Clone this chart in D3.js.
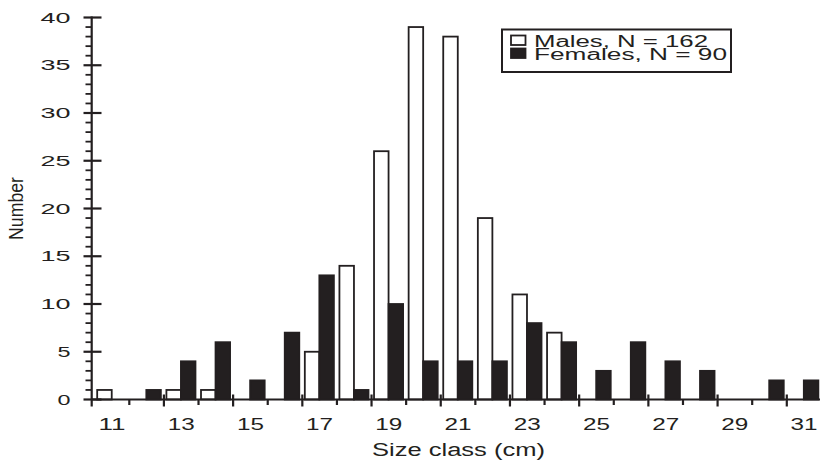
<!DOCTYPE html>
<html lang="en">
<head>
  <meta charset="UTF-8" />
  <title>Size class distribution</title>
  <script src="https://d3js.org/d3.v7.min.js"></script>
  <style>
    body {
      margin: 0;
      background: #fff;
      font-family: "Liberation Sans", Arial, sans-serif;
    }
    svg text {
      fill: #231f20;
    }
  </style>
</head>
<body>
  <div id="chart"></div>

  <script>
    // data
    const sizeClasses = [11, 12, 13, 14, 15, 16, 17, 18, 19, 20, 21, 22, 23, 24, 25, 26, 27, 28, 29, 30, 31];
    const males   = [1, 0, 1, 1, 0, 0, 5, 14, 26, 39, 38, 19, 11, 7, 0, 0, 0, 0, 0, 0, 0];
    const females = [0, 1, 4, 6, 2, 7, 13, 1, 10, 4, 4, 4, 8, 6, 3, 6, 4, 3, 0, 2, 2];
    const xLabels = [11, 13, 15, 17, 19, 21, 23, 25, 27, 29, 31];
    const yTicks = [0, 5, 10, 15, 20, 25, 30, 35, 40];
    const seriesNames = ["Males", "Females"];
    const legendLabels = ["Males, N = 162", "Females, N = 90"];

    const W = 820, H = 462;
    const ink = "#231f20";

    const svg = d3.select("#chart").append("svg")
      .attr("width", W)
      .attr("height", H);

    // scales
    const x0 = 94.7, x1 = 821.4;
    const xEdge = d3.scaleLinear().domain([10.5, 31.5]).range([x0, x1]);
    const xBand = d3.scaleBand().domain(sizeClasses).range([x0, x1])
      .paddingInner(0.16).paddingOuter(0.08).align(0.45);
    const xSub = d3.scaleBand().domain(seriesNames).range([0, xBand.bandwidth()]);
    const y = d3.scaleLinear().domain([0, 40]).range([399.5, 17.5]);

    const rows = sizeClasses.map((c, i) => ({ c, Males: males[i], Females: females[i] }));

    // bars
    const groups = svg.append("g").selectAll("g")
      .data(rows)
      .join("g")
      .attr("transform", d => `translate(${xBand(d.c)},0)`);

    groups.selectAll("rect")
      .data(d => seriesNames.map(k => ({ key: k, value: d[k] })).filter(e => e.value > 0))
      .join("rect")
      .attr("x", d => xSub(d.key))
      .attr("y", d => y(d.value))
      .attr("width", xSub.bandwidth())
      .attr("height", d => y(0) - y(d.value))
      .attr("fill", d => d.key === "Males" ? "#fff" : ink)
      .attr("stroke", ink)
      .attr("stroke-width", 1.8);

    // x axis line + ticks
    const xAxis = svg.append("g");
    xAxis.append("line")
      .attr("x1", 91.5).attr("x2", W)
      .attr("y1", y(0)).attr("y2", y(0))
      .attr("stroke", ink).attr("stroke-width", 2.2);

    const majorEdges = xLabels.map(v => v - 0.5);
    const minorEdges = sizeClasses.filter(v => v % 2 === 0).map(v => v - 0.5);

    xAxis.selectAll(".xmaj")
      .data(majorEdges.slice(1))
      .join("line")
      .attr("x1", d => xEdge(d)).attr("x2", d => xEdge(d))
      .attr("y1", y(0) - 5).attr("y2", y(0) + 7)
      .attr("stroke", ink).attr("stroke-width", 2.2);

    xAxis.selectAll(".xmin")
      .data(minorEdges)
      .join("line")
      .attr("x1", d => xEdge(d)).attr("x2", d => xEdge(d))
      .attr("y1", y(0)).attr("y2", y(0) + 5.5)
      .attr("stroke", ink).attr("stroke-width", 2.2);

    xAxis.selectAll(".xlab")
      .data(xLabels)
      .join("text")
      .attr("x", d => xEdge(d) - 13.5)
      .attr("y", 429.5)
      .attr("font-size", 17)
      .attr("textLength", 27)
      .attr("lengthAdjust", "spacingAndGlyphs")
      .text(d => d);

    // y axis line + ticks
    const yAxis = svg.append("g");
    yAxis.append("line")
      .attr("x1", 91.7).attr("x2", 91.7)
      .attr("y1", y(40) - 1).attr("y2", y(0) + 7)
      .attr("stroke", ink).attr("stroke-width", 2.2);

    yAxis.selectAll(".ymin")
      .data(d3.range(0, 41).filter(v => v % 5 !== 0))
      .join("line")
      .attr("x1", 85.5).attr("x2", 91.7)
      .attr("y1", d => y(d)).attr("y2", d => y(d))
      .attr("stroke", ink).attr("stroke-width", 1.8);

    yAxis.selectAll(".ymaj")
      .data(yTicks)
      .join("line")
      .attr("x1", 83.5).attr("x2", 101.5)
      .attr("y1", d => y(d)).attr("y2", d => y(d))
      .attr("stroke", ink).attr("stroke-width", 2.2);

    yAxis.selectAll(".ylab")
      .data(yTicks)
      .join("text")
      .attr("x", d => 70.5 - (String(d).length === 1 ? 13 : 30))
      .attr("y", d => y(d) + 5)
      .attr("font-size", 14)
      .attr("textLength", d => String(d).length === 1 ? 13 : 30)
      .attr("lengthAdjust", "spacingAndGlyphs")
      .text(d => d);

    // axis titles
    svg.append("text")
      .attr("x", 372)
      .attr("y", 455.5)
      .attr("font-size", 18)
      .attr("textLength", 173)
      .attr("lengthAdjust", "spacingAndGlyphs")
      .text("Size class (cm)");

    svg.append("text")
      .attr("transform", "translate(22.5,240) rotate(-90)")
      .attr("x", 0)
      .attr("y", 0)
      .attr("font-size", 20)
      .attr("textLength", 63)
      .attr("lengthAdjust", "spacingAndGlyphs")
      .text("Number");

    // legend
    const legend = svg.append("g");
    legend.append("rect")
      .attr("x", 502).attr("y", 29.5)
      .attr("width", 229).attr("height", 42.5)
      .attr("fill", "#fff")
      .attr("stroke", ink).attr("stroke-width", 2);

    const legendY = [35.5, 48.5];
    const legendBase = [46.7, 60];
    const legendWidths = [174, 193];

    seriesNames.forEach((k, i) => {
      legend.append("rect")
        .attr("x", 511).attr("y", legendY[i])
        .attr("width", 14.5).attr("height", 9.5)
        .attr("fill", k === "Males" ? "#fff" : ink)
        .attr("stroke", ink).attr("stroke-width", 1.8);
      legend.append("text")
        .attr("x", 534)
        .attr("y", legendBase[i])
        .attr("font-size", 16)
        .attr("textLength", legendWidths[i])
        .attr("lengthAdjust", "spacingAndGlyphs")
        .text(legendLabels[i]);
    });
  </script>
</body>
</html>
